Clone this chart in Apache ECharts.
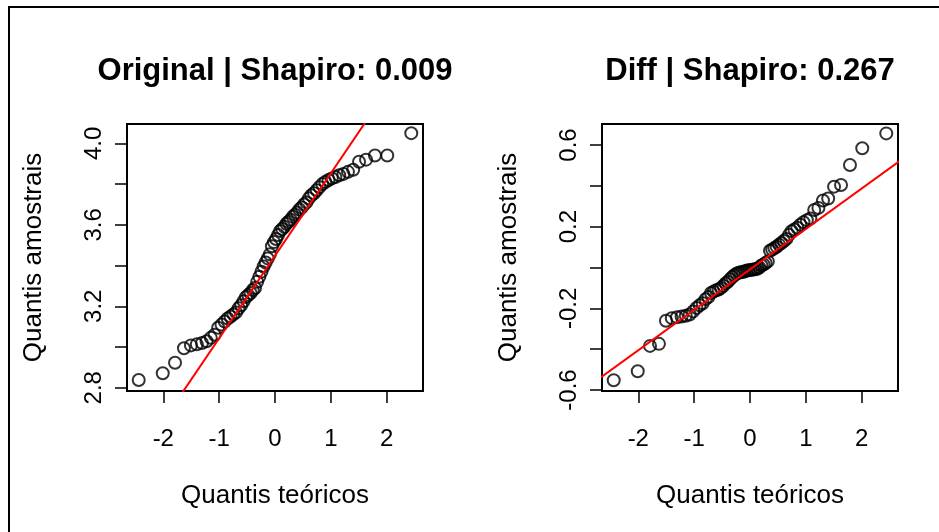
<!DOCTYPE html>
<html>
<head>
<meta charset="utf-8">
<script src="https://cdn.jsdelivr.net/npm/echarts@6/dist/echarts.min.js"></script>
<style>
html,body{margin:0;padding:0;background:#fff;}
#chart{width:939px;height:532px;}
</style>
</head>
<body>
<div id="chart"></div>
<script>
// Theoretical normal quantiles (read from the x positions of the points)
const theoretical = [-2.44,-2.01,-1.79,-1.63,-1.505,-1.40,-1.307,-1.225,-1.150,-1.081,-1.018,-0.958,-0.901,-0.847,-0.795,-0.746,-0.698,-0.651,-0.606,-0.562,-0.520,-0.478,-0.437,-0.397,-0.358,-0.319,-0.280,-0.242,-0.204,-0.167,-0.130,-0.092,-0.055,-0.018,
  0.018,0.055,0.092,0.130,0.167,0.204,0.242,0.280,0.319,0.358,0.397,0.437,0.478,0.520,0.562,0.606,0.651,0.698,0.746,0.795,0.847,0.901,0.958,1.018,1.081,1.150,1.225,1.307,1.40,1.505,1.63,1.79,2.01,2.44];

// Sample quantiles, left panel (Original)
const originalSample = [2.838,2.871,2.923,2.994,3.008,3.013,3.020,3.028,3.045,3.060,3.095,3.110,3.125,3.140,3.150,3.160,3.170,3.190,3.205,3.225,3.245,3.255,3.265,3.280,3.290,3.320,3.345,3.370,3.395,3.415,3.435,3.455,3.495,3.515,
  3.530,3.550,3.570,3.580,3.590,3.605,3.615,3.625,3.640,3.650,3.660,3.675,3.685,3.700,3.710,3.730,3.745,3.755,3.770,3.785,3.800,3.810,3.820,3.828,3.835,3.843,3.850,3.860,3.870,3.910,3.920,3.940,3.940,4.050];

// Sample quantiles, right panel (Diff)
const diffSample = [-0.552,-0.508,-0.384,-0.374,-0.261,-0.248,-0.244,-0.240,-0.236,-0.230,-0.215,-0.198,-0.185,-0.175,-0.155,-0.145,-0.125,-0.118,-0.112,-0.108,-0.100,-0.090,-0.078,-0.070,-0.058,-0.047,-0.038,-0.030,-0.026,-0.023,-0.022,-0.018,-0.015,-0.013,
  -0.012,-0.010,-0.009,-0.006,0.000,0.010,0.015,0.022,0.030,0.082,0.088,0.095,0.102,0.112,0.120,0.130,0.140,0.160,0.178,0.186,0.195,0.210,0.222,0.232,0.240,0.282,0.292,0.328,0.338,0.396,0.404,0.502,0.584,0.657];

// qqline (intercept, slope)
const originalLine = [3.448, 0.405];
const diffLine = [-0.009, 0.198];

// Titles and tick values
const titles = ['Original | Shapiro: 0.009', 'Diff | Shapiro: 0.267'];
const xTicks = [-2, -1, 0, 1, 2];
const origYTicks = [2.8, 3.0, 3.2, 3.4, 3.6, 3.8, 4.0];
const origYLabels = [2.8, 3.2, 3.6, 4.0];
const diffYTicks = [-0.6, -0.4, -0.2, 0.0, 0.2, 0.4, 0.6];
const diffYLabels = [-0.6, -0.2, 0.2, 0.6];

const FONT = 'Liberation Sans, Arial, sans-serif';
const XR = [-2.65, 2.65];
const origYR = [2.784, 4.095];
const diffYR = [-0.605, 0.703];

function pairs(xs, ys) { return xs.map((x, i) => [x, ys[i]]); }
function linePts(l) { return [[XR[0] - 0.5, l[0] + l[1] * (XR[0] - 0.5)], [XR[1] + 0.5, l[0] + l[1] * (XR[1] + 0.5)]]; }

function xAxis(gi) {
  return {
    gridIndex: gi, type: 'value', min: XR[0], max: XR[1],
    axisLine: { show: true, onZero: false, lineStyle: { color: '#000', width: 2 } },
    axisTick: { show: true, inside: false, length: 12, customValues: xTicks, lineStyle: { color: '#000', width: 1.5 } },
    axisLabel: { customValues: xTicks, fontSize: 24, color: '#000', fontFamily: FONT, margin: 36, formatter: v => String(v) },
    splitLine: { show: false },
    name: 'Quantis teóricos', nameLocation: 'middle', nameGap: 92,
    nameTextStyle: { fontSize: 26, color: '#000', fontFamily: FONT }
  };
}
function yAxis(gi, range, ticks, labels) {
  return {
    gridIndex: gi, type: 'value', min: range[0], max: range[1],
    axisLine: { show: true, onZero: false, lineStyle: { color: '#000', width: 2 } },
    axisTick: { show: true, inside: false, length: 12, customValues: ticks, lineStyle: { color: '#000', width: 1.5 } },
    axisLabel: { customValues: labels, rotate: 90, fontSize: 24, color: '#000', fontFamily: FONT, margin: 21, formatter: v => v.toFixed(1) },
    splitLine: { show: false },
    name: 'Quantis amostrais', nameLocation: 'middle', nameGap: 80,
    nameTextStyle: { fontSize: 26, color: '#000', fontFamily: FONT }
  };
}
function pointSeries(i, ys) {
  return {
    type: 'scatter', xAxisIndex: i, yAxisIndex: i, data: pairs(theoretical, ys),
    symbol: 'circle', symbolSize: 12, silent: true,
    itemStyle: { color: 'rgba(0,0,0,0)', borderColor: '#000', borderWidth: 2 },
    clip: false, z: 2
  };
}
function lineSeries(i, l) {
  return {
    type: 'line', xAxisIndex: i, yAxisIndex: i, data: linePts(l),
    showSymbol: false, clip: true, silent: true,
    lineStyle: { color: '#ff0000', width: 2 }, z: 3
  };
}

const chart = echarts.init(document.getElementById('chart'), null, { renderer: 'canvas' });
chart.setOption({
  backgroundColor: '#fff',
  animation: false,
  grid: [
    { left: 127, top: 124, width: 296, height: 267, show: true, borderColor: '#000', borderWidth: 2, backgroundColor: 'transparent', containLabel: false },
    { left: 602, top: 124, width: 296, height: 267, show: true, borderColor: '#000', borderWidth: 2, backgroundColor: 'transparent', containLabel: false }
  ],
  xAxis: [xAxis(0), xAxis(1)],
  yAxis: [yAxis(0, origYR, origYTicks, origYLabels), yAxis(1, diffYR, diffYTicks, diffYLabels)],
  series: [
    pointSeries(0, originalSample), lineSeries(0, originalLine),
    pointSeries(1, diffSample), lineSeries(1, diffLine)
  ],
  graphic: [
    { type: 'line', shape: { x1: 8, y1: 7, x2: 939, y2: 7 }, style: { stroke: '#000', lineWidth: 2 } },
    { type: 'line', shape: { x1: 9, y1: 6, x2: 9, y2: 532 }, style: { stroke: '#000', lineWidth: 2 } },
    { type: 'text', x: 275, y: 71, style: { text: titles[0], fill: '#000', font: 'bold 31px ' + FONT, textAlign: 'center', textVerticalAlign: 'middle' } },
    { type: 'text', x: 750, y: 71, style: { text: titles[1], fill: '#000', font: 'bold 31px ' + FONT, textAlign: 'center', textVerticalAlign: 'middle' } }
  ]
});
</script>
</body>
</html>
